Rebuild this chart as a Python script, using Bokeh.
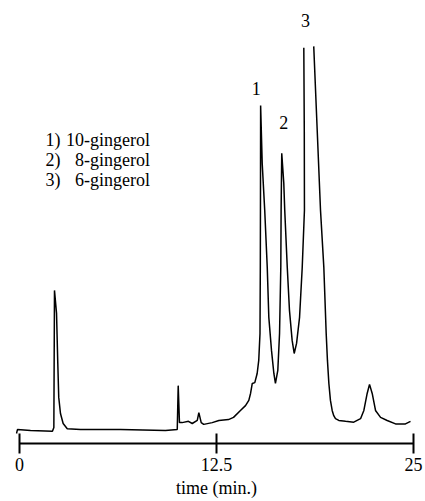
from bokeh.plotting import figure
from bokeh.models import FixedTicker, Range1d
from bokeh.core.properties import value
from bokeh.embed import file_html
from bokeh.resources import INLINE

nan = float("nan")

# retention time (min) and detector response (% of recorder full scale)
time_min = [-0.19, -0.13, 0.70, 2.09, 2.18, 2.22, 2.35, 2.43, 2.49, 2.60, 2.77, 3.03, 3.87, 6.41, 9.26,
            10.01, 10.07, 10.15, 10.32, 10.72, 10.96, 11.28, 11.38, 11.53, 11.69, 12.23, 12.65, 13.26,
            13.58, 14.02, 14.34, 14.55, 14.66, 14.77, 14.93, 15.08, 15.18, 15.26, 15.28, 15.29, 15.30,
            15.40, 15.56, 15.72, 15.82, 15.99, 16.14, 16.24, 16.39, 16.50, 16.58, 16.60, 16.64, 16.77,
            16.83, 16.99, 17.13, 17.30, 17.43, 17.58, 17.77, 17.94, 18.08, 18.07, 18.04, nan,
            18.67, 18.89, 19.10, 19.31, 19.46, 19.54, 19.63, 19.73, 19.84, 19.94, 20.05, 20.26, 20.69,
            21.21, 21.64, 21.85, 22.06, 22.21, 22.38, 22.59, 22.91, 23.33, 23.86, 24.49, 24.81]
response = [2.3, 3.2, 3.0, 2.8, 3.7, 35.2, 29.9, 18.4, 10.6, 6.9, 4.6, 3.4, 3.2, 3.2, 3.0,
            3.2, 13.3, 4.8, 4.8, 5.1, 4.6, 5.3, 7.1, 4.8, 4.4, 4.8, 5.3, 5.5,
            6.0, 7.6, 8.7, 9.9, 11.5, 13.8, 14.0, 16.1, 19.1, 25.3, 40.5, 55.9, 77.7,
            64.4, 53.6, 40.5, 29.0, 21.4, 16.1, 13.8, 16.8, 25.3, 40.5, 53.6, 66.7, 59.8,
            53.6, 40.5, 30.6, 23.7, 20.7, 23.0, 29.0, 40.5, 53.6, 72.0, 91.0, nan,
            91.3, 72.0, 53.6, 40.5, 25.3, 19.1, 13.8, 9.9, 7.6, 6.4, 5.7, 5.3, 5.1,
            4.9, 5.7, 7.6, 11.5, 13.6, 11.5, 7.6, 6.0, 5.3, 4.5, 4.5, 5.1]

peak_labels = ["1", "2", "3"]
peak_label_t = [15.02, 16.77, 18.15]
peak_label_v = [81.6, 73.8, 97.2]

legend_nums = ["1)", "2)", "3)"]
legend_names = ["10-gingerol", "8-gingerol", "6-gingerol"]

x_ticks = [0, 12.5, 25]
x_tick_labels = ["0", "12.5", "25"]

FONT = "Liberation Serif"

p = figure(frame_width=402, frame_height=435, output_backend="svg", toolbar_location=None,
           y_axis_location=None, x_range=Range1d(-0.2538, 25.2538), y_range=Range1d(0, 100),
           min_border_left=15, min_border_right=8, min_border_top=8, min_border_bottom=0)
p.outline_line_color = None
p.grid.visible = False
p.background_fill_color = "white"
p.border_fill_color = "white"

p.line(time_min, response, line_color="black", line_width=1.5)

p.text(x=peak_label_t, y=peak_label_v, text=peak_labels, text_align="center", text_baseline="middle",
       text_font=value(FONT), text_font_size="18px", text_color="black")

leg_y = [69.7, 65.1, 60.5]
p.text(x=[1.65] * 3, y=leg_y, text=legend_nums, text_align="left", text_baseline="middle",
       text_font=value(FONT), text_font_size="18px", text_color="black")
p.text(x=[8.28] * 3, y=leg_y, text=legend_names, text_align="right", text_baseline="middle",
       text_font=value(FONT), text_font_size="18px", text_color="black")

ax = p.xaxis[0]
ax.ticker = FixedTicker(ticks=x_ticks, minor_ticks=[])
ax.major_label_overrides = {t: l for t, l in zip(x_ticks, x_tick_labels)}
ax.bounds = (0, 25)
ax.axis_line_width = 2
ax.axis_line_color = "black"
ax.major_tick_line_width = 2
ax.major_tick_line_color = "black"
ax.major_tick_in = 10
ax.major_tick_out = 10
ax.minor_tick_line_color = None
ax.major_label_text_font = FONT
ax.major_label_text_font_size = "18px"
ax.major_label_text_color = "black"
ax.major_label_standoff = 4
ax.axis_label = "time (min.)"
ax.axis_label_text_font = FONT
ax.axis_label_text_font_size = "18px"
ax.axis_label_text_font_style = "normal"
ax.axis_label_text_color = "black"
ax.axis_label_standoff = 4

open("out.html", "w").write(file_html(p, INLINE))
